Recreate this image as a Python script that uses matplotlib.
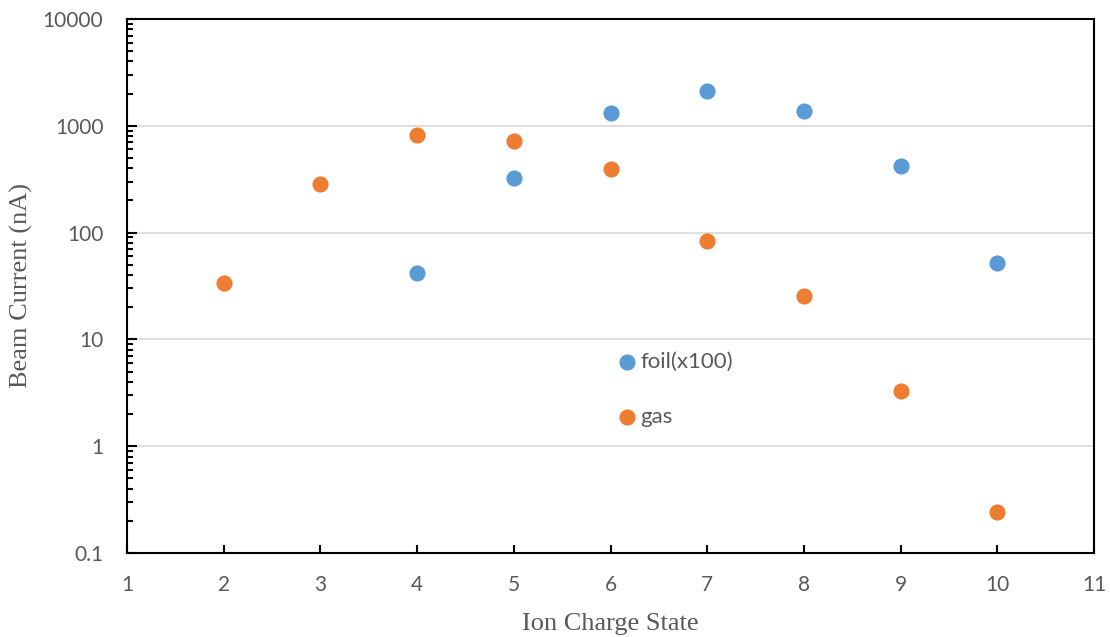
import numpy as np
import matplotlib.pyplot as plt
from matplotlib.ticker import LogLocator, FuncFormatter, NullFormatter

# charge states and measured currents
foil_charge = [4, 5, 6, 7, 8, 9, 10]
foil_current = [42, 325, 1320, 2120, 1380, 420, 52]
gas_charge = [2, 3, 4, 5, 6, 7, 8, 9, 10]
gas_current = [33.7, 285, 820, 720, 394, 83.5, 25.5, 3.29, 0.242]

y_ticks = [0.1, 1, 10, 100, 1000, 10000]
x_ticks = list(range(1, 12))

blue = "#5B9BD5"
orange = "#ED7D31"
gray = "#595959"

fig = plt.figure(figsize=(11.1, 6.37), dpi=100)
ax = fig.add_axes([0.1144, 0.1319, 0.8712, 0.8383])

ax.scatter(foil_charge, foil_current, s=135, color=blue, label="foil(x100)", zorder=3, linewidths=0)
ax.scatter(gas_charge, gas_current, s=135, color=orange, label="gas", zorder=3, linewidths=0)

ax.set_yscale("log")
ax.set_ylim(0.1, 10000)
ax.set_xlim(1, 11)
ax.set_xticks(x_ticks)
ax.set_yticks(y_ticks)
ax.yaxis.set_major_formatter(FuncFormatter(lambda v, p: ("%g" % v)))
ax.yaxis.set_minor_locator(LogLocator(base=10, subs=np.arange(2, 10)))
ax.yaxis.set_minor_formatter(NullFormatter())

ax.grid(axis="y", which="major", color="#D9D9D9", linewidth=1.2, zorder=0)
ax.set_axisbelow(True)

for s in ax.spines.values():
    s.set_linewidth(1.5)
    s.set_color("black")

ax.tick_params(axis="y", which="major", direction="in", length=7, width=1.5,
               labelsize=15, labelcolor=gray, pad=17)
ax.tick_params(axis="y", which="minor", direction="in", length=4, width=1.5)
ax.tick_params(axis="x", which="major", direction="in", length=6, width=1.5,
               labelsize=15, labelcolor=gray, pad=16)
for lab in ax.get_xticklabels() + ax.get_yticklabels():
    lab.set_fontfamily("Lato")

ax.set_xlabel("Ion Charge State", fontfamily="Liberation Serif", fontsize=19, color=gray)
ax.set_ylabel("Beam Current (nA)", fontfamily="Liberation Serif", fontsize=19, color=gray)
ax.xaxis.set_label_coords(0.5, -0.112)
ax.yaxis.set_label_coords(-0.097, 0.5)

leg = ax.legend(loc="upper left", bbox_to_anchor=(0.508, 0.376), frameon=False,
                handlelength=0.8, handletextpad=0.18, labelspacing=1.58,
                borderpad=0, borderaxespad=0,
                prop={"family": "Lato", "size": 16})
for t in leg.get_texts():
    t.set_color(gray)

fig.savefig("out.png", dpi=100)
